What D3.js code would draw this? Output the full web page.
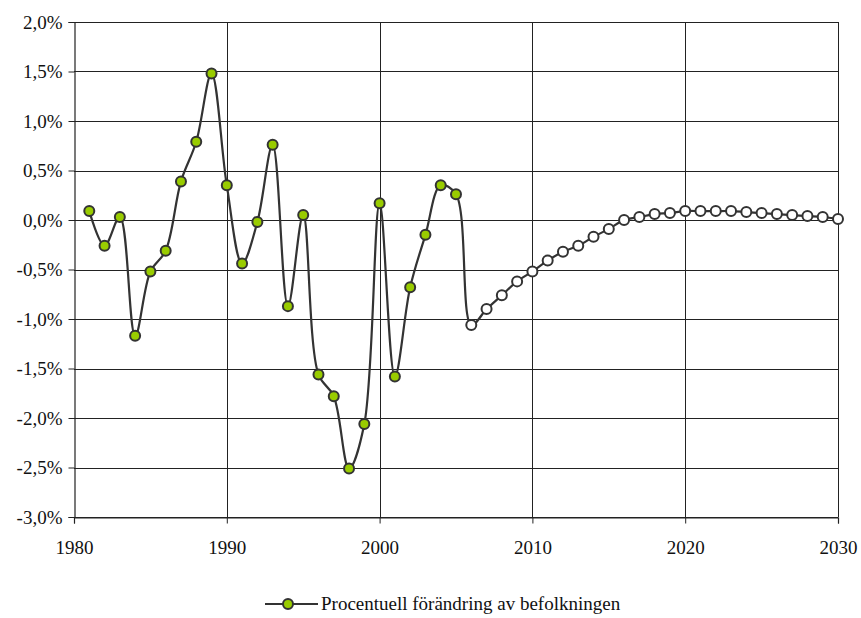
<!DOCTYPE html>
<html><head><meta charset="utf-8">
<script src="https://cdn.jsdelivr.net/npm/d3@7"></script>
<style>body{margin:0;background:#fff}
@font-face{font-family:"RefSerif";src:local("Liberation Serif"),local("LiberationSerif"),local("Liberation Serif Regular"),local("LiberationSerif-Regular");}
</style>
</head><body>
<script>
const years = d3.range(1981, 2031);
const histValues = [0.09,-0.26,0.03,-1.17,-0.52,-0.31,0.39,0.79,1.48,0.35,
  -0.44,-0.02,0.76,-0.87,0.05,-1.56,-1.78,-2.51,-2.06,0.17,
  -1.58,-0.68,-0.15,0.35,0.26];
const projValues = [-1.06,-0.90,-0.76,-0.62,-0.52,-0.41,-0.32,-0.26,-0.17,-0.09,
  0.00,0.03,0.06,0.07,0.09,0.09,0.09,0.09,0.08,0.07,
  0.06,0.05,0.04,0.03,0.01];
const xTicks = [1980,1990,2000,2010,2020,2030];
const yTicks = [2.0,1.5,1.0,0.5,0.0,-0.5,-1.0,-1.5,-2.0,-2.5,-3.0];
const legendLabel = "Procentuell förändring av befolkningen";

const values = histValues.concat(projValues);
const data = years.map((y,i)=>({year:y, value:values[i], proj:i>=histValues.length}));

const W=861,H=618;
const m={left:74,right:23,top:22,bottom:101};
const setFont = sel => sel.style("font-family", () => `"Liberation Serif"`).attr("font-size",19).attr("fill","#111");
const svg=d3.select("body").append("svg").attr("width",W).attr("height",H);
const x=d3.scaleLinear().domain([1980,2030]).range([m.left,W-m.right]);
const y=d3.scaleLinear().domain([-3,2]).range([H-m.bottom,m.top]);

// grid
svg.append("g").selectAll("line").data(yTicks).join("line")
  .attr("x1",m.left).attr("x2",W-m.right)
  .attr("y1",d=>Math.round(y(d))+0.5).attr("y2",d=>Math.round(y(d))+0.5)
  .attr("stroke","#222").attr("stroke-width",1);
svg.append("g").selectAll("line").data(xTicks.slice(1)).join("line")
  .attr("x1",d=>Math.round(x(d))+0.5).attr("x2",d=>Math.round(x(d))+0.5)
  .attr("y1",m.top).attr("y2",H-m.bottom)
  .attr("stroke","#222").attr("stroke-width",1);

// axes
const fmt=d=>d.toFixed(1).replace(".",",")+"%";
const yAxis=svg.append("g").attr("transform",`translate(${m.left+0.5},0)`)
  .call(d3.axisLeft(y).tickValues(yTicks).tickFormat(fmt).tickSize(6).tickPadding(6));
const xAxis=svg.append("g").attr("transform",`translate(0,${H-m.bottom+0.5})`)
  .call(d3.axisBottom(x).tickValues(xTicks).tickFormat(d3.format("d")).tickSize(6).tickPadding(17));
[yAxis,xAxis].forEach(g=>{
  g.attr("font-family",null).attr("font-size",null);
  g.select(".domain").attr("stroke","#222").attr("stroke-width",1.2);
  g.selectAll(".tick line").attr("stroke","#222");
  setFont(g.selectAll("text"));
});

// line
const line=d3.line().x(d=>x(d.year)).y(d=>y(d.value)).curve(d3.curveCatmullRom.alpha(0.5));
svg.append("path").datum(data).attr("d",line).attr("fill","none")
  .attr("stroke","#333").attr("stroke-width",2.2);
svg.append("g").selectAll("circle").data(data).join("circle")
  .attr("cx",d=>x(d.year)).attr("cy",d=>y(d.value)).attr("r",5)
  .attr("fill",d=>d.proj?"#fff":"#99cc00").attr("stroke","#333").attr("stroke-width",2);

// legend
const lg=svg.append("g").attr("transform","translate(0,604)");
lg.append("line").attr("x1",265).attr("x2",318).attr("y1",0).attr("y2",0)
  .attr("stroke","#333").attr("stroke-width",2.2);
lg.append("circle").attr("cx",288).attr("cy",0).attr("r",5)
  .attr("fill","#99cc00").attr("stroke","#333").attr("stroke-width",2);
setFont(lg.append("text").attr("x",321).attr("y",6).text(legendLabel));
</script>
</body></html>
